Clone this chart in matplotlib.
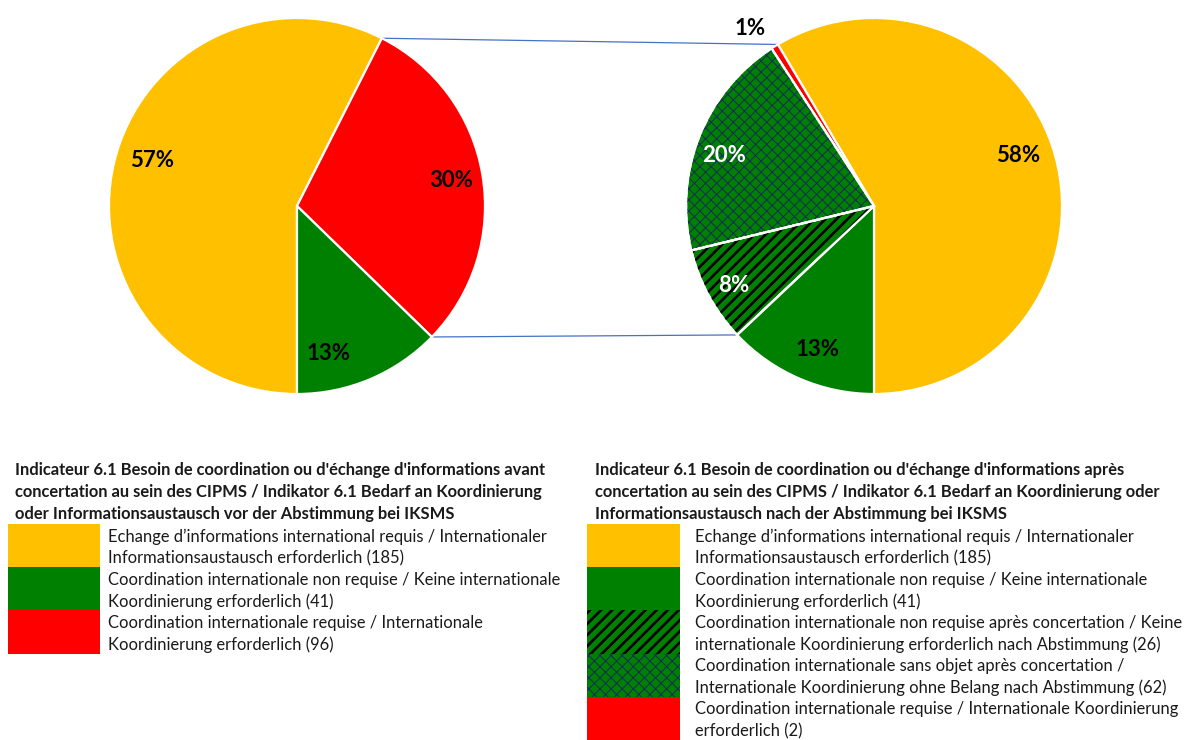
import numpy as np
import matplotlib as mpl
import matplotlib.pyplot as plt
from matplotlib.patches import Rectangle, Wedge

plt.rcParams['font.family'] = ['Lato', 'DejaVu Sans']

W, H = 1184, 740
YELLOW, GREEN, RED = '#FFC000', '#008000', '#FF0000'

# before concertation (legend order)
before_names = [
    "Echange d\u2019informations international requis / Internationaler\nInformationsaustausch erforderlich",
    "Coordination internationale non requise / Keine internationale\nKoordinierung erforderlich",
    "Coordination internationale requise / Internationale\nKoordinierung erforderlich",
]
before_counts = [185, 41, 96]
before_pct = ['57%', '13%', '30%']
before_colors = [YELLOW, GREEN, RED]
before_hatch = [None, None, None]

# after concertation (legend order)
after_names = [
    "Echange d\u2019informations international requis / Internationaler\nInformationsaustausch erforderlich",
    "Coordination internationale non requise / Keine internationale\nKoordinierung erforderlich",
    "Coordination internationale non requise apr\u00e8s concertation / Keine\ninternationale Koordinierung erforderlich nach Abstimmung",
    "Coordination internationale sans objet apr\u00e8s concertation /\nInternationale Koordinierung ohne Belang nach Abstimmung",
    "Coordination internationale requise / Internationale Koordinierung\nerforderlich",
]
after_counts = [185, 41, 26, 62, 2]
after_pct = ['58%', '13%', '8%', '20%', '1%']
after_colors = [YELLOW, GREEN, GREEN, GREEN, RED]
# (pattern, colour, line width)
after_hatch = [None, None, ('///', 'black', 1.9), ('xxx', '#1A2A5E', 0.7), None]
after_pct_color = ['black', 'black', 'white', 'white', 'black']

before_title = ("Indicateur 6.1 Besoin de coordination ou d'\u00e9change d'informations avant\n"
                "concertation au sein des CIPMS / Indikator 6.1 Bedarf an Koordinierung\n"
                "oder Informationsaustausch vor der Abstimmung bei IKSMS")
after_title = ("Indicateur 6.1 Besoin de coordination ou d'\u00e9change d'informations apr\u00e8s\n"
               "concertation au sein des CIPMS / Indikator 6.1 Bedarf an Koordinierung oder\n"
               "Informationsaustausch nach der Abstimmung bei IKSMS")

fig = plt.figure(figsize=(W / 100, H / 100), dpi=100)
ax = fig.add_axes([0, 0, 1, 1])

R = 188
FS = 11.9
LINE = 21.8


def hatched(cls, *args, h=None, **kw):
    with mpl.rc_context({'hatch.linewidth': h[2]}):
        return cls(*args, hatch=h[0], edgecolor=h[1], linewidth=0, **kw)


def draw_pie(order, counts, colors, hatches, pcts, pct_colors, center, counterclock, dist):
    vals = [counts[i] for i in order]
    wedges, _ = ax.pie(vals, colors=[colors[i] for i in order], startangle=270,
                       counterclock=counterclock, center=center, radius=R,
                       wedgeprops=dict(edgecolor='white', linewidth=1.6), frame=True)
    for w, i in zip(wedges, order):
        if hatches[i]:
            ax.add_patch(hatched(Wedge, w.center, w.r, w.theta1, w.theta2, h=hatches[i],
                                 facecolor='none', zorder=2))
            ax.add_patch(Wedge(w.center, w.r, w.theta1, w.theta2, fill=False,
                               edgecolor='white', linewidth=1.6, zorder=3))
        mid = np.deg2rad((w.theta1 + w.theta2) / 2 + dist[i][1])
        d = dist[i][0] * R
        ax.text(center[0] + d * np.cos(mid), center[1] + d * np.sin(mid), pcts[i],
                ha='center', va='center', fontsize=16, fontweight='bold',
                color=pct_colors[i], zorder=5)
    return dict(zip(order, wedges))


cl = (297, H - 206)
cr = (874, H - 206)
wl = draw_pie([0, 2, 1], before_counts, before_colors, before_hatch, before_pct,
              ['black'] * 3, cl, False, [(0.81, -4), (0.80, -11), (0.83, 0)])
wr = draw_pie([0, 4, 3, 2, 1], after_counts, after_colors, after_hatch, after_pct,
              after_pct_color, cr, True, [(0.81, 4), (0.82, 2), (0.86, 1), (0.84, 3), (1.15, 3)])

# connector lines between the red slice and the split-up slices
red_l = wl[2]
p1 = np.deg2rad(red_l.theta2)
p2 = np.deg2rad(wr[0].theta2)
ax.plot([cl[0] + R * np.cos(p1), cr[0] + R * np.cos(p2)],
        [cl[1] + R * np.sin(p1), cr[1] + R * np.sin(p2)], color='#4472C4', lw=0.9, zorder=0)
q1 = np.deg2rad(red_l.theta1)
q2 = np.deg2rad(wr[2].theta2)
ax.plot([cl[0] + R * np.cos(q1), cr[0] + R * np.cos(q2)],
        [cl[1] + R * np.sin(q1), cr[1] + R * np.sin(q2)], color='#4472C4', lw=0.9, zorder=0)


def lines(x, y0, text, **kw):
    for j, ln in enumerate(text.split('\n')):
        ax.text(x, H - (y0 + j * LINE), ln, ha='left', va='center_baseline',
                fontsize=FS, color='#1a1a1a', **kw)


def draw_legend(x0, x1, tx, title_x, title, names, counts, colors, hatches):
    lines(title_x, 469, title, fontweight='bold')
    top = 524
    step = 43.2
    for k, (nm, c, col, h) in enumerate(zip(names, counts, colors, hatches)):
        y = H - top - (k + 1) * step
        if h:
            ax.add_patch(hatched(Rectangle, (x0, y), x1 - x0, step, h=h, facecolor=col))
        else:
            ax.add_patch(Rectangle((x0, y), x1 - x0, step, facecolor=col, linewidth=0))
        lines(tx, top + k * step + 11, f"{nm} ({c})")


draw_legend(8, 100, 108, 15, before_title, before_names, before_counts, before_colors, before_hatch)
draw_legend(587, 680, 695, 595, after_title, after_names, after_counts, after_colors, after_hatch)

ax.set_xlim(0, W)
ax.set_ylim(0, H)
ax.set_aspect('equal')
ax.axis('off')
fig.savefig('out.png', dpi=100)
